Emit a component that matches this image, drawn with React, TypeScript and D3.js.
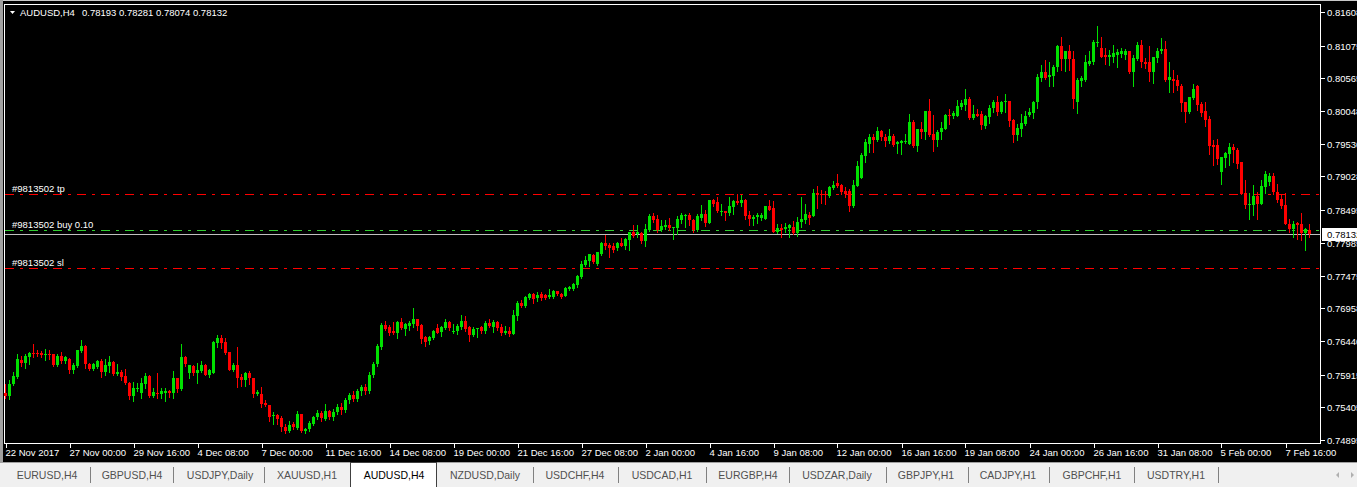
import React from 'react';
import * as d3 from 'd3';

// AUDUSD H4, one tuple per bar: open, high, low, close
const candles: [number, number, number, number][] = [
  [0.7564, 0.7577, 0.7555, 0.7558], [0.7559, 0.7584, 0.7554, 0.7577], [0.7577, 0.7596, 0.7576, 0.7590], [0.7588, 0.7624, 0.7587, 0.7617],
  [0.7615, 0.7621, 0.7605, 0.7610], [0.7610, 0.7624, 0.7603, 0.7621], [0.7620, 0.7628, 0.7609, 0.7626], [0.7626, 0.7640, 0.7620, 0.7624],
  [0.7626, 0.7631, 0.7621, 0.7624], [0.7626, 0.7629, 0.7620, 0.7623], [0.7623, 0.7632, 0.7615, 0.7624], [0.7625, 0.7630, 0.7617, 0.7624],
  [0.7624, 0.7625, 0.7606, 0.7607], [0.7607, 0.7625, 0.7606, 0.7622], [0.7621, 0.7628, 0.7611, 0.7614], [0.7613, 0.7622, 0.7611, 0.7620],
  [0.7617, 0.7618, 0.7594, 0.7599], [0.7599, 0.7611, 0.7594, 0.7607], [0.7606, 0.7631, 0.7604, 0.7630], [0.7629, 0.7646, 0.7628, 0.7637],
  [0.7637, 0.7638, 0.7603, 0.7608], [0.7609, 0.7611, 0.7600, 0.7601], [0.7601, 0.7610, 0.7599, 0.7608], [0.7604, 0.7615, 0.7602, 0.7613],
  [0.7613, 0.7617, 0.7588, 0.7596], [0.7596, 0.7617, 0.7591, 0.7607], [0.7606, 0.7621, 0.7596, 0.7612], [0.7612, 0.7613, 0.7592, 0.7593],
  [0.7593, 0.7609, 0.7591, 0.7596], [0.7596, 0.7599, 0.7583, 0.7589], [0.7590, 0.7601, 0.7578, 0.7579], [0.7579, 0.7581, 0.7554, 0.7558],
  [0.7559, 0.7580, 0.7551, 0.7571], [0.7569, 0.7579, 0.7566, 0.7571], [0.7564, 0.7586, 0.7556, 0.7579], [0.7578, 0.7594, 0.7571, 0.7590],
  [0.7590, 0.7591, 0.7557, 0.7558], [0.7558, 0.7571, 0.7557, 0.7565], [0.7564, 0.7595, 0.7556, 0.7563], [0.7562, 0.7571, 0.7556, 0.7566],
  [0.7563, 0.7571, 0.7551, 0.7566], [0.7566, 0.7568, 0.7557, 0.7564], [0.7564, 0.7598, 0.7556, 0.7587], [0.7587, 0.7587, 0.7565, 0.7569],
  [0.7569, 0.7640, 0.7568, 0.7620], [0.7620, 0.7622, 0.7606, 0.7609], [0.7595, 0.7607, 0.7587, 0.7607], [0.7606, 0.7607, 0.7591, 0.7595],
  [0.7595, 0.7610, 0.7579, 0.7599], [0.7598, 0.7614, 0.7596, 0.7607], [0.7607, 0.7608, 0.7591, 0.7592], [0.7592, 0.7601, 0.7588, 0.7599],
  [0.7595, 0.7645, 0.7594, 0.7643], [0.7642, 0.7654, 0.7635, 0.7649], [0.7649, 0.7654, 0.7634, 0.7642], [0.7643, 0.7649, 0.7624, 0.7626],
  [0.7627, 0.7628, 0.7599, 0.7600], [0.7600, 0.7611, 0.7598, 0.7607], [0.7607, 0.7636, 0.7572, 0.7587], [0.7588, 0.7593, 0.7574, 0.7584],
  [0.7584, 0.7596, 0.7574, 0.7595], [0.7595, 0.7598, 0.7578, 0.7586], [0.7587, 0.7587, 0.7557, 0.7562], [0.7561, 0.7568, 0.7560, 0.7565],
  [0.7562, 0.7572, 0.7541, 0.7546], [0.7548, 0.7553, 0.7543, 0.7544], [0.7544, 0.7544, 0.7520, 0.7526], [0.7528, 0.7533, 0.7514, 0.7529],
  [0.7529, 0.7530, 0.7515, 0.7523], [0.7524, 0.7527, 0.7504, 0.7510], [0.7510, 0.7514, 0.7501, 0.7504], [0.7504, 0.7519, 0.7502, 0.7513],
  [0.7515, 0.7517, 0.7506, 0.7510], [0.7509, 0.7535, 0.7506, 0.7530], [0.7530, 0.7531, 0.7502, 0.7504], [0.7504, 0.7509, 0.7501, 0.7507],
  [0.7507, 0.7520, 0.7504, 0.7516], [0.7515, 0.7527, 0.7513, 0.7526], [0.7525, 0.7536, 0.7522, 0.7532], [0.7532, 0.7535, 0.7520, 0.7524],
  [0.7522, 0.7546, 0.7521, 0.7535], [0.7535, 0.7536, 0.7522, 0.7525], [0.7525, 0.7538, 0.7521, 0.7534], [0.7534, 0.7546, 0.7530, 0.7542],
  [0.7542, 0.7547, 0.7531, 0.7536], [0.7536, 0.7556, 0.7534, 0.7552], [0.7552, 0.7564, 0.7548, 0.7560], [0.7560, 0.7566, 0.7550, 0.7554],
  [0.7554, 0.7570, 0.7551, 0.7567], [0.7567, 0.7575, 0.7560, 0.7572], [0.7572, 0.7578, 0.7562, 0.7566], [0.7566, 0.7596, 0.7564, 0.7592],
  [0.7592, 0.7612, 0.7588, 0.7608], [0.7608, 0.7640, 0.7605, 0.7637], [0.7636, 0.7673, 0.7633, 0.7670], [0.7670, 0.7676, 0.7662, 0.7664],
  [0.7667, 0.7670, 0.7654, 0.7657], [0.7661, 0.7674, 0.7655, 0.7657], [0.7658, 0.7676, 0.7650, 0.7674], [0.7674, 0.7681, 0.7664, 0.7665],
  [0.7664, 0.7673, 0.7654, 0.7671], [0.7669, 0.7676, 0.7662, 0.7673], [0.7671, 0.7696, 0.7667, 0.7679], [0.7679, 0.7680, 0.7662, 0.7668],
  [0.7670, 0.7672, 0.7642, 0.7648], [0.7651, 0.7653, 0.7637, 0.7643], [0.7644, 0.7653, 0.7640, 0.7651], [0.7649, 0.7662, 0.7648, 0.7660],
  [0.7665, 0.7671, 0.7657, 0.7658], [0.7659, 0.7669, 0.7653, 0.7667], [0.7665, 0.7679, 0.7663, 0.7674], [0.7675, 0.7676, 0.7662, 0.7665],
  [0.7660, 0.7671, 0.7657, 0.7661], [0.7660, 0.7672, 0.7656, 0.7669], [0.7667, 0.7685, 0.7664, 0.7676], [0.7676, 0.7684, 0.7661, 0.7664],
  [0.7667, 0.7669, 0.7645, 0.7654], [0.7654, 0.7666, 0.7652, 0.7664], [0.7664, 0.7665, 0.7651, 0.7665], [0.7666, 0.7668, 0.7658, 0.7660],
  [0.7661, 0.7676, 0.7658, 0.7673], [0.7673, 0.7680, 0.7666, 0.7668], [0.7667, 0.7678, 0.7659, 0.7675], [0.7675, 0.7676, 0.7662, 0.7665],
  [0.7667, 0.7672, 0.7654, 0.7657], [0.7658, 0.7669, 0.7656, 0.7661], [0.7661, 0.7667, 0.7653, 0.7656], [0.7656, 0.7693, 0.7655, 0.7685],
  [0.7684, 0.7708, 0.7678, 0.7705], [0.7705, 0.7709, 0.7698, 0.7700], [0.7700, 0.7716, 0.7698, 0.7714], [0.7712, 0.7720, 0.7711, 0.7719],
  [0.7719, 0.7720, 0.7705, 0.7711], [0.7712, 0.7721, 0.7708, 0.7717], [0.7718, 0.7721, 0.7709, 0.7713], [0.7717, 0.7719, 0.7710, 0.7712],
  [0.7714, 0.7726, 0.7713, 0.7717], [0.7714, 0.7725, 0.7713, 0.7723], [0.7723, 0.7723, 0.7717, 0.7718], [0.7719, 0.7720, 0.7712, 0.7714],
  [0.7715, 0.7730, 0.7715, 0.7728], [0.7726, 0.7731, 0.7725, 0.7730], [0.7727, 0.7736, 0.7724, 0.7734], [0.7732, 0.7748, 0.7730, 0.7747],
  [0.7745, 0.7771, 0.7744, 0.7765], [0.7764, 0.7778, 0.7763, 0.7772], [0.7770, 0.7782, 0.7763, 0.7781], [0.7780, 0.7781, 0.7767, 0.7768],
  [0.7765, 0.7785, 0.7764, 0.7784], [0.7781, 0.7800, 0.7779, 0.7799], [0.7799, 0.7811, 0.7789, 0.7793], [0.7795, 0.7798, 0.7777, 0.7791],
  [0.7794, 0.7798, 0.7785, 0.7788], [0.7790, 0.7800, 0.7788, 0.7799], [0.7798, 0.7807, 0.7793, 0.7794], [0.7794, 0.7806, 0.7789, 0.7805],
  [0.7803, 0.7816, 0.7788, 0.7815], [0.7815, 0.7827, 0.7808, 0.7809], [0.7813, 0.7827, 0.7808, 0.7815], [0.7814, 0.7815, 0.7798, 0.7802],
  [0.7801, 0.7828, 0.7794, 0.7820], [0.7819, 0.7844, 0.7817, 0.7841], [0.7841, 0.7845, 0.7832, 0.7835], [0.7836, 0.7843, 0.7816, 0.7819],
  [0.7819, 0.7834, 0.7817, 0.7825], [0.7823, 0.7835, 0.7821, 0.7827], [0.7827, 0.7837, 0.7819, 0.7822], [0.7823, 0.7824, 0.7805, 0.7824],
  [0.7822, 0.7841, 0.7812, 0.7836], [0.7835, 0.7845, 0.7830, 0.7842], [0.7842, 0.7844, 0.7824, 0.7843], [0.7842, 0.7846, 0.7826, 0.7835],
  [0.7835, 0.7836, 0.7815, 0.7819], [0.7819, 0.7844, 0.7818, 0.7841], [0.7838, 0.7858, 0.7835, 0.7844], [0.7844, 0.7850, 0.7825, 0.7830],
  [0.7830, 0.7866, 0.7830, 0.7866], [0.7866, 0.7867, 0.7857, 0.7860], [0.7863, 0.7870, 0.7847, 0.7848], [0.7847, 0.7859, 0.7842, 0.7849],
  [0.7849, 0.7849, 0.7835, 0.7845], [0.7845, 0.7870, 0.7842, 0.7856], [0.7855, 0.7866, 0.7844, 0.7864], [0.7864, 0.7876, 0.7860, 0.7861],
  [0.7861, 0.7874, 0.7857, 0.7866], [0.7866, 0.7867, 0.7836, 0.7841], [0.7842, 0.7848, 0.7827, 0.7836], [0.7836, 0.7843, 0.7827, 0.7840],
  [0.7839, 0.7846, 0.7830, 0.7842], [0.7837, 0.7846, 0.7835, 0.7843], [0.7836, 0.7856, 0.7836, 0.7856], [0.7856, 0.7866, 0.7851, 0.7851],
  [0.7854, 0.7864, 0.7816, 0.7816], [0.7816, 0.7828, 0.7814, 0.7822], [0.7822, 0.7828, 0.7808, 0.7819], [0.7820, 0.7830, 0.7816, 0.7824],
  [0.7822, 0.7829, 0.7808, 0.7827], [0.7824, 0.7833, 0.7813, 0.7814], [0.7814, 0.7839, 0.7809, 0.7831], [0.7831, 0.7870, 0.7824, 0.7836],
  [0.7834, 0.7859, 0.7830, 0.7844], [0.7842, 0.7847, 0.7829, 0.7838], [0.7841, 0.7883, 0.7841, 0.7877], [0.7877, 0.7888, 0.7853, 0.7874],
  [0.7876, 0.7882, 0.7861, 0.7875], [0.7876, 0.7880, 0.7859, 0.7874], [0.7872, 0.7888, 0.7871, 0.7887], [0.7885, 0.7896, 0.7883, 0.7889],
  [0.7893, 0.7907, 0.7887, 0.7888], [0.7889, 0.7891, 0.7876, 0.7879], [0.7880, 0.7887, 0.7871, 0.7876], [0.7880, 0.7883, 0.7849, 0.7856],
  [0.7856, 0.7897, 0.7855, 0.7889], [0.7888, 0.7927, 0.7888, 0.7919], [0.7901, 0.7940, 0.7900, 0.7936], [0.7935, 0.7962, 0.7926, 0.7957],
  [0.7954, 0.7969, 0.7942, 0.7964], [0.7965, 0.7970, 0.7942, 0.7960], [0.7960, 0.7980, 0.7959, 0.7974], [0.7974, 0.7976, 0.7960, 0.7964],
  [0.7964, 0.7970, 0.7951, 0.7958], [0.7958, 0.7977, 0.7956, 0.7966], [0.7966, 0.7970, 0.7951, 0.7952], [0.7953, 0.7958, 0.7939, 0.7957],
  [0.7956, 0.7960, 0.7938, 0.7959], [0.7958, 0.7970, 0.7956, 0.7959], [0.7954, 0.8001, 0.7954, 0.7989], [0.7989, 0.7992, 0.7949, 0.7951],
  [0.7951, 0.7977, 0.7943, 0.7977], [0.7977, 0.7989, 0.7963, 0.7972], [0.7972, 0.8006, 0.7961, 0.8005], [0.8005, 0.8024, 0.7967, 0.7968],
  [0.7969, 0.7999, 0.7943, 0.7960], [0.7960, 0.7975, 0.7950, 0.7973], [0.7972, 0.7989, 0.7962, 0.7979], [0.7977, 0.8001, 0.7977, 0.7999],
  [0.8000, 0.8009, 0.7985, 0.7997], [0.7997, 0.8005, 0.7994, 0.8002], [0.7998, 0.8023, 0.7997, 0.8013], [0.8012, 0.8022, 0.8009, 0.8018],
  [0.8015, 0.8040, 0.8007, 0.8024], [0.8024, 0.8027, 0.7993, 0.7995], [0.7994, 0.8015, 0.7993, 0.8001], [0.8001, 0.8009, 0.7997, 0.7998],
  [0.8001, 0.8005, 0.7978, 0.7983], [0.7982, 0.7999, 0.7979, 0.7997], [0.7996, 0.8015, 0.7987, 0.8011], [0.8011, 0.8023, 0.8004, 0.8020],
  [0.8020, 0.8029, 0.7999, 0.8004], [0.8004, 0.8021, 0.8003, 0.8020], [0.8019, 0.8032, 0.8004, 0.8021], [0.8021, 0.8021, 0.7982, 0.7990],
  [0.7991, 0.7993, 0.7957, 0.7968], [0.7968, 0.7985, 0.7960, 0.7979], [0.7977, 0.8001, 0.7967, 0.7987], [0.7985, 0.8006, 0.7984, 0.7998],
  [0.7999, 0.8011, 0.7997, 0.8004], [0.8002, 0.8021, 0.7995, 0.8020], [0.8019, 0.8064, 0.8011, 0.8059], [0.8058, 0.8078, 0.8053, 0.8067],
  [0.8067, 0.8085, 0.8056, 0.8058], [0.8059, 0.8083, 0.8044, 0.8062], [0.8061, 0.8077, 0.8044, 0.8075], [0.8074, 0.8109, 0.8069, 0.8108],
  [0.8108, 0.8122, 0.8070, 0.8087], [0.8087, 0.8100, 0.8069, 0.8100], [0.8100, 0.8109, 0.8070, 0.8087], [0.8087, 0.8099, 0.8011, 0.8024],
  [0.8019, 0.8057, 0.8002, 0.8054], [0.8053, 0.8060, 0.8045, 0.8057], [0.8054, 0.8093, 0.8053, 0.8083], [0.8080, 0.8100, 0.8077, 0.8084],
  [0.8082, 0.8117, 0.8080, 0.8114], [0.8113, 0.8139, 0.8108, 0.8114], [0.8104, 0.8122, 0.8090, 0.8090], [0.8093, 0.8104, 0.8079, 0.8091],
  [0.8091, 0.8101, 0.8077, 0.8093], [0.8091, 0.8109, 0.8082, 0.8096], [0.8093, 0.8102, 0.8075, 0.8098], [0.8095, 0.8104, 0.8091, 0.8099],
  [0.8093, 0.8102, 0.8087, 0.8099], [0.8099, 0.8100, 0.8065, 0.8066], [0.8067, 0.8093, 0.8044, 0.8089], [0.8087, 0.8114, 0.8086, 0.8109],
  [0.8109, 0.8117, 0.8075, 0.8082], [0.8083, 0.8089, 0.8073, 0.8080], [0.8082, 0.8108, 0.8053, 0.8067], [0.8067, 0.8091, 0.8049, 0.8091],
  [0.8089, 0.8104, 0.8083, 0.8100], [0.8099, 0.8120, 0.8096, 0.8103], [0.8103, 0.8115, 0.8053, 0.8054], [0.8054, 0.8083, 0.8036, 0.8059],
  [0.8056, 0.8070, 0.8036, 0.8053], [0.8054, 0.8062, 0.8039, 0.8044], [0.8045, 0.8048, 0.8006, 0.8018], [0.8019, 0.8020, 0.7989, 0.8004],
  [0.8004, 0.8028, 0.8003, 0.8027], [0.8026, 0.8048, 0.8025, 0.8040], [0.8045, 0.8046, 0.8007, 0.8015], [0.8017, 0.8020, 0.7997, 0.8003],
  [0.8005, 0.8019, 0.7982, 0.7991], [0.7993, 0.7998, 0.7938, 0.7951], [0.7952, 0.7960, 0.7921, 0.7949], [0.7952, 0.7962, 0.7922, 0.7930],
  [0.7910, 0.7934, 0.7891, 0.7933], [0.7932, 0.7942, 0.7918, 0.7940], [0.7938, 0.7956, 0.7921, 0.7949], [0.7949, 0.7954, 0.7926, 0.7944],
  [0.7944, 0.7948, 0.7916, 0.7923], [0.7926, 0.7926, 0.7876, 0.7876], [0.7877, 0.7897, 0.7854, 0.7858], [0.7858, 0.7877, 0.7836, 0.7859],
  [0.7858, 0.7889, 0.7842, 0.7872], [0.7872, 0.7878, 0.7836, 0.7860], [0.7860, 0.7897, 0.7860, 0.7888], [0.7887, 0.7912, 0.7877, 0.7907],
  [0.7894, 0.7909, 0.7890, 0.7904], [0.7904, 0.7909, 0.7875, 0.7879], [0.7879, 0.7891, 0.7863, 0.7866], [0.7867, 0.7875, 0.7853, 0.7857],
  [0.7858, 0.7877, 0.7828, 0.7829], [0.7829, 0.7836, 0.7816, 0.7820], [0.7820, 0.7833, 0.7808, 0.7829], [0.7830, 0.7832, 0.7804, 0.7827],
  [0.7828, 0.7845, 0.7803, 0.7814], [0.7814, 0.7822, 0.7787, 0.7820], [0.78193, 0.78281, 0.78074, 0.78132],
];

const priceTicks = [0.81608, 0.81075, 0.80565, 0.80048, 0.7953, 0.79028, 0.78495, 0.77985, 0.77475, 0.76958, 0.7644, 0.75915, 0.75405, 0.74895];

const timeBars = [0, 16, 32, 48, 64, 80, 96, 112, 128, 144, 160, 176, 192, 208, 224, 240, 256, 272, 288, 304, 320];
const timeLabels = [
  '22 Nov 2017', '27 Nov 00:00', '29 Nov 16:00', '4 Dec 08:00', '7 Dec 00:00', '11 Dec 16:00', '14 Dec 08:00',
  '19 Dec 00:00', '21 Dec 16:00', '27 Dec 08:00', '2 Jan 00:00', '4 Jan 16:00', '9 Jan 08:00', '12 Jan 00:00',
  '16 Jan 16:00', '19 Jan 08:00', '24 Jan 00:00', '26 Jan 16:00', '31 Jan 08:00', '5 Feb 00:00', '7 Feb 16:00',
];

// order levels
const orderNames = ['#9813502 tp', '#9813502 buy 0.10', '#9813502 sl'];
const orderPrices = [0.7875, 0.78185, 0.77595];
const orderColors = ['#ff0000', '#32cd32', '#ff0000'];
const bid = 0.78132;

const tabNames = ['EURUSD,H4', 'GBPUSD,H4', 'USDJPY,Daily', 'XAUUSD,H1', 'AUDUSD,H4', 'NZDUSD,Daily', 'USDCHF,H4',
  'USDCAD,H1', 'EURGBP,H4', 'USDZAR,Daily', 'GBPJPY,H1', 'CADJPY,H1', 'GBPCHF,H1', 'USDTRY,H1'];
const tabCenters = [47, 132, 220, 307, 394, 485, 575, 662, 748, 837, 926, 1008, 1092, 1176];
const tabSeps = [90, 173, 264, 533, 618, 706, 789, 886, 968, 1049, 1134, 1218];
const activeTab = 4;

const W = 1357;
const H = 487;
const BULL = '#00e000';
const BEAR = '#ff0000';
const FONT = '"Liberation Sans", Arial, sans-serif';

export default function App() {
  const x = d3.scaleLinear().domain([0, candles.length - 1]).range([5.5, 5.5 + 4 * (candles.length - 1)]);
  const y = d3.scaleLinear().domain([0.74895, 0.81608]).range([440, 12]);
  const fmt = d3.format('.5f');

  return (
    <div style={{ position: 'absolute', left: 0, top: 0 }}>
      <svg width={W} height={H} style={{ display: 'block' }} fontFamily={FONT}>
        <rect x={0} y={0} width={W} height={H} fill="#000" />
        {/* window edges */}
        <rect x={0} y={0} width={W} height={1} fill="#c8c8c8" />
        <rect x={0} y={0} width={3} height={463} fill="#a0a0a0" />
        {/* chart frame */}
        <rect x={4.5} y={4.5} width={1316} height={439} fill="none" stroke="#fff" strokeWidth={1} />

        {/* header */}
        <path d="M10,11 L15,11 L12.5,14 Z" fill="#fff" />
        <text x={20} y={16} fontSize={9.5} fill="#fff">AUDUSD,H4</text>
        <text x={82} y={16} fontSize={9.5} fill="#fff">
          {candles[candles.length - 1].map(v => fmt(v)).join(' ')}
        </text>

        {/* order lines */}
        <line x1={5} x2={1320} y1={Math.round(y(bid)) + 0.5} y2={Math.round(y(bid)) + 0.5} stroke="#c0c0c0" strokeWidth={1} />
        {orderPrices.map((p, i) => {
          const yy = Math.round(y(p)) + 0.5;
          return (
            <g key={orderNames[i]}>
              <line x1={5} x2={1320} y1={yy} y2={yy} stroke={orderColors[i]} strokeWidth={1} strokeDasharray="9,6,3,6" />
              <text x={12} y={yy - 3} fontSize={9.5} fill="#fff">{orderNames[i]}</text>
            </g>
          );
        })}

        {/* candles */}
        {candles.map(([o, h, l, c], i) => {
          const cx = x(i);
          const col = c >= o ? BULL : BEAR;
          const top = Math.round(y(Math.max(o, c)));
          const bot = Math.round(y(Math.min(o, c)));
          return (
            <g key={i}>
              <line x1={cx} x2={cx} y1={Math.round(y(h))} y2={Math.round(y(l)) + 1} stroke={col} strokeWidth={1} />
              <rect x={cx - 1.5} y={top} width={3} height={Math.max(1, bot - top)} fill={col} />
            </g>
          );
        })}

        {/* price axis (labels run past the window edge, as in the terminal) */}
        {priceTicks.map(p => {
          const yy = Math.round(y(p)) + 0.5;
          return (
            <g key={p}>
              <line x1={1321} x2={1325} y1={yy} y2={yy} stroke="#fff" />
              <text x={1327} y={yy} dy="0.35em" fontSize={9.5} fill="#fff">{fmt(p)}</text>
            </g>
          );
        })}
        <rect x={1322} y={Math.round(y(bid)) - 6} width={36} height={13} fill="#fff" />
        <text x={1327} y={Math.round(y(bid)) + 0.5} dy="0.35em" fontSize={9.5} fill="#000">{fmt(bid)}</text>

        {/* time axis */}
        {timeBars.map((b, i) => {
          const xx = Math.round(x(b)) + 0.5;
          return (
            <g key={b}>
              <line x1={xx} x2={xx} y1={444} y2={448} stroke="#fff" />
              <text x={xx - 1} y={456} fontSize={9.5} fill="#fff">{timeLabels[i]}</text>
            </g>
          );
        })}

        {/* symbol tabs */}
        <rect x={0} y={462} width={W} height={25} fill="#f0f0f0" />
        <line x1={0} x2={W} y1={462.5} y2={462.5} stroke="#a0a0a0" />
        <rect x={350.5} y={462.5} width={86} height={26} fill="#fff" stroke="#404040" />
        {tabSeps.map(s => (
          <line key={s} x1={s + 0.5} x2={s + 0.5} y1={467} y2={483} stroke="#808080" />
        ))}
        {tabNames.map((t, i) => (
          <text key={t} x={tabCenters[i]} y={479} fontSize={10.5} textAnchor="middle" fill={i === activeTab ? '#000' : '#505050'}>{t}</text>
        ))}
        <path d="M1339,472 L1336,475 L1339,478 Z" fill="#b0b0b0" />
        <path d="M1351,472 L1354,475 L1351,478 Z" fill="#b0b0b0" />
      </svg>
    </div>
  );
}
